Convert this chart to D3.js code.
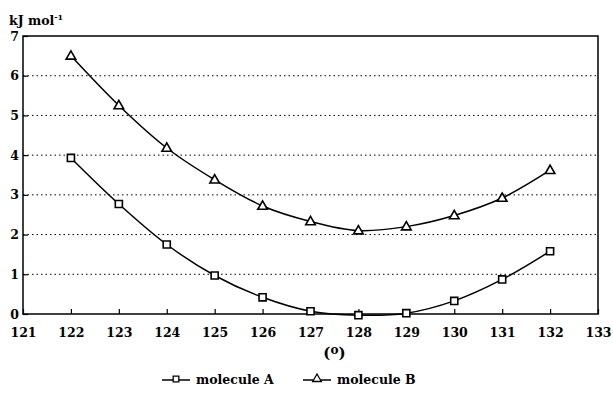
<!DOCTYPE html>
<html>
<head>
<meta charset="utf-8">
<script src="https://cdn.jsdelivr.net/npm/d3@7"></script>
<style>
	body { margin: 0; background: #fff; }
	svg { display: block; }
	text { font-family: "DejaVu Serif", serif; font-weight: bold; fill: #000; }
</style>
</head>
<body>
<svg width="613" height="402"></svg>
<script>
// angle values (degrees)
const angles = [122, 123, 124, 125, 126, 127, 128, 129, 130, 131, 132];
// energies, kJ/mol
const moleculeA = [3.93, 2.77, 1.75, 0.97, 0.42, 0.07, -0.03, 0.02, 0.33, 0.87, 1.58];
const moleculeB = [6.5, 5.25, 4.18, 3.38, 2.72, 2.33, 2.1, 2.2, 2.48, 2.92, 3.62];
const xTicks = [121, 122, 123, 124, 125, 126, 127, 128, 129, 130, 131, 132, 133];
const yTicks = [0, 1, 2, 3, 4, 5, 6, 7];
const seriesNames = ["molecule A", "molecule B"];

const svg = d3.select("svg");
const margin = { top: 36, right: 15, bottom: 88, left: 23 };
const width = 613 - margin.left - margin.right;
const height = 402 - margin.top - margin.bottom;

const x = d3.scaleLinear().domain([121, 133]).range([0, width]);
const y = d3.scaleLinear().domain([0, 7]).range([height, 0]);

const g = svg.append("g")
	.attr("transform", `translate(${margin.left},${margin.top})`);

// dotted grid
g.selectAll(".grid")
	.data(yTicks.filter(d => d > 0 && d < 7))
	.join("line")
	.attr("class", "grid")
	.attr("x1", 0)
	.attr("x2", width)
	.attr("y1", d => y(d))
	.attr("y2", d => y(d))
	.attr("stroke", "#000")
	.attr("stroke-width", 1)
	.attr("stroke-dasharray", "1.5,3");

// frame
g.append("rect")
	.attr("width", width)
	.attr("height", height)
	.attr("fill", "none")
	.attr("stroke", "#000")
	.attr("stroke-width", 1.5);

const xAxis = d3.axisBottom(x).tickValues(xTicks).tickSize(-5).tickPadding(14).tickFormat(d3.format("d"));
const yAxis = d3.axisLeft(y).tickValues(yTicks).tickSize(-5).tickPadding(8).tickFormat(d3.format("d"));

const gX = g.append("g")
	.attr("transform", `translate(0,${height})`)
	.call(xAxis);
const gY = g.append("g").call(yAxis);

[gX, gY].forEach(ax => {
	ax.select(".domain").remove();
	ax.selectAll("line").attr("stroke", "#000").attr("stroke-width", 1.2);
	ax.selectAll("text").attr("font-size", 12.5).attr("font-family", "DejaVu Serif").attr("font-weight", "bold");
});
gY.selectAll("text").attr("dx", 4);

// curves
const curve = d3.curveCatmullRom.alpha(0.5);
const line = d3.line()
	.curve(curve)
	.x((d, i) => x(angles[i]))
	.y(d => y(d));

[moleculeA, moleculeB].forEach(vals => {
	g.append("path")
		.datum(vals)
		.attr("fill", "none")
		.attr("stroke", "#000")
		.attr("stroke-width", 1.5)
		.attr("d", line);
});

const sq = d3.symbol().type(d3.symbolSquare).size(50);
const tri = d3.symbol().type(d3.symbolTriangle).size(40);

g.selectAll(".ptA")
	.data(moleculeA)
	.join("path")
	.attr("class", "ptA")
	.attr("transform", (d, i) => `translate(${x(angles[i])},${y(d)})`)
	.attr("d", sq())
	.attr("fill", "#fff")
	.attr("stroke", "#000")
	.attr("stroke-width", 1.6);

g.selectAll(".ptB")
	.data(moleculeB)
	.join("path")
	.attr("class", "ptB")
	.attr("transform", (d, i) => `translate(${x(angles[i])},${y(d) + 0.5})`)
	.attr("d", tri())
	.attr("fill", "#fff")
	.attr("stroke", "#000")
	.attr("stroke-width", 1.6);

// y-axis unit label
const unit = svg.append("text")
	.attr("x", 9)
	.attr("y", 25)
	.attr("font-size", 12.5);
unit.append("tspan").text("kJ  mol");
unit.append("tspan").attr("dy", -5).attr("font-size", 8).text("-1");

// x-axis label
const xl = svg.append("text")
	.attr("x", margin.left + x(127.5))
	.attr("y", 358)
	.attr("text-anchor", "middle")
	.attr("font-size", 15);
xl.append("tspan").text("(");
xl.append("tspan").attr("dy", -4).attr("font-size", 12).text("o");
xl.append("tspan").attr("dy", 4).text(")");

// legend
const legend = svg.append("g").attr("transform", "translate(162,380)");
const items = [
	{ name: seriesNames[0], type: d3.symbolSquare, x: 0 },
	{ name: seriesNames[1], type: d3.symbolTriangle, x: 141 }
];
items.forEach(it => {
	const li = legend.append("g").attr("transform", `translate(${it.x},0)`);
	li.append("line")
		.attr("x1", 0).attr("x2", 28)
		.attr("y1", 0).attr("y2", 0)
		.attr("stroke", "#000").attr("stroke-width", 1.5);
	li.append("path")
		.attr("transform", "translate(14,-1)")
		.attr("d", d3.symbol().type(it.type).size(32)())
		.attr("fill", "#fff").attr("stroke", "#000").attr("stroke-width", 1.3);
	li.append("text")
		.attr("x", 34)
		.attr("y", 4)
		.attr("font-size", 12.5)
		.text(it.name);
});
</script>
</body>
</html>
